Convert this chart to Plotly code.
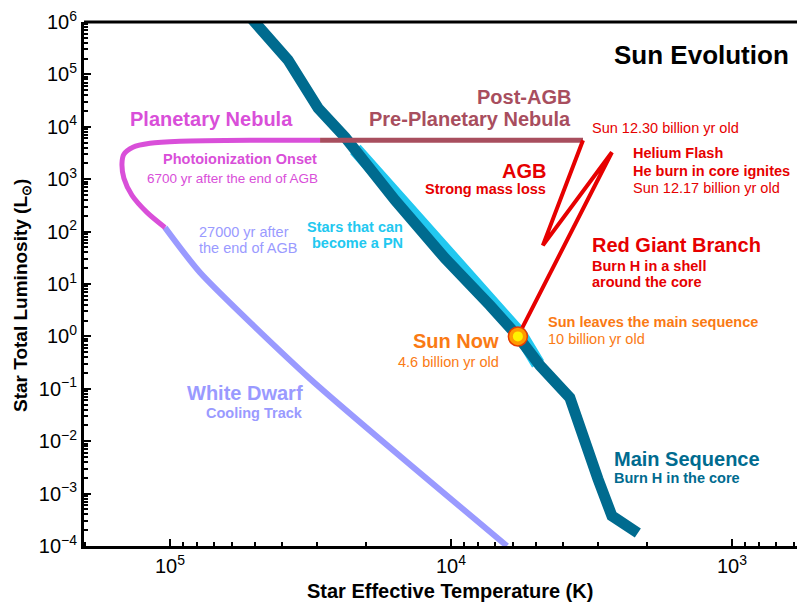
import plotly.graph_objects as go

# ---------------- data (effective temperature K, luminosity L_sun) ----------------
ms_T = [51500, 38000, 29700, 23800, 15800, 10500, 7260, 5780, 4820, 3776, 3000, 2675, 2163]
ms_L = [1.2e6, 1.87e5, 2.27e4, 6320, 395, 30.8, 3.88, 1.0, 0.277, 0.0676, 0.00191, 3.75e-4, 1.77e-4]

pn_cand_T = [21900, 15700, 10400, 7130, 5660, 4900]
pn_cand_L = [3700, 480, 36.0, 4.40, 1.08, 0.30]

rgb_T = [5780, 2675, 4710, 3390]
rgb_L = [1.0, 3270, 54.5, 5550]

pagb_T = [3390, 29240]
pagb_L = [5550, 5550]

pn_T = [29240, 51900, 92100, 117800, 135500, 145900, 148200, 145900, 136500, 120800, 104200]
pn_L = [5550, 5550, 5310, 4850, 4070, 2990, 2010, 1040, 492, 233, 120]

wd_T = [104200, 78200, 31760, 6320]
wd_L = [120, 16.6, 0.156, 1e-4]

sun_T = [5780]
sun_L = [1.0]

x_tickvals = [1e5, 1e4, 1e3]
x_ticktext = ["10<sup>5</sup>", "10<sup>4</sup>", "10<sup>3</sup>"]
y_exps = [-4, -3, -2, -1, 0, 1, 2, 3, 4, 5, 6]
y_tickvals = [10.0 ** e for e in y_exps]
y_ticktext = ["10<sup>%s</sup>" % (str(e).replace("-", "\u2212")) for e in y_exps]

# ---------------- colours ----------------
C_MS = "#006b8f"
C_CYAN = "#22c8f0"
C_RED = "#e60000"
C_MAROON = "#a84e5e"
C_MAG = "#d94fd9"
C_LAV = "#9a9aff"
C_ORANGE = "#fa7a14"
FONT = "Liberation Sans, Arial, sans-serif"

fig = go.Figure()

fig.add_trace(go.Scatter(x=pn_cand_T, y=pn_cand_L, mode="lines",
                         line=dict(color=C_CYAN, width=14), hoverinfo="skip"))
fig.add_trace(go.Scatter(x=ms_T, y=ms_L, mode="lines",
                         line=dict(color=C_MS, width=11), hoverinfo="skip"))
fig.add_trace(go.Scatter(x=wd_T, y=wd_L, mode="lines",
                         line=dict(color=C_LAV, width=6, shape="spline", smoothing=0.6), hoverinfo="skip"))
fig.add_trace(go.Scatter(x=pn_T, y=pn_L, mode="lines",
                         line=dict(color=C_MAG, width=5, shape="spline", smoothing=0.8), hoverinfo="skip"))
fig.add_trace(go.Scatter(x=pagb_T, y=pagb_L, mode="lines",
                         line=dict(color=C_MAROON, width=5), hoverinfo="skip"))
fig.add_trace(go.Scatter(x=rgb_T, y=rgb_L, mode="lines",
                         line=dict(color=C_RED, width=4), hoverinfo="skip"))
fig.add_trace(go.Scatter(x=sun_T, y=sun_L, mode="markers",
                         marker=dict(size=19, color="#ff9a00", line=dict(color="#e63c00", width=1.5)),
                         hoverinfo="skip"))
fig.add_trace(go.Scatter(x=sun_T, y=sun_L, mode="markers",
                         marker=dict(size=10, color="#fff200", line=dict(width=0)),
                         hoverinfo="skip"))

# ---------------- layout helpers (screen pixel -> paper) ----------------
OFF = 8  # page body margin
W, H = 805 - 2 * OFF, 605 - OFF
PL, PR, PT, PB = 84, OFF + W, 22, 546   # plot area in screen pixels


def pos(px, py):
    return (px - PL) / (PR - PL), (PB - py) / (PB - PT)


ann = []


def label(text, px, py, color, size, anchor="left", bold=False, angle=0):
    x, y = pos(px, py)
    if bold:
        text = "<b>%s</b>" % text
    ann.append(dict(text=text, x=x, y=y, xref="paper", yref="paper",
                    xanchor=anchor, yanchor="middle", showarrow=False,
                    textangle=angle,
                    font=dict(family=FONT, size=size, color=color)))


BIG = 20
SM = 14.5

label("Sun Evolution", 612, 55, "black", 26, "left", True)
label("Planetary Nebula", 128, 119, C_MAG, BIG, "left", True)
label("Post-AGB", 573, 97, C_MAROON, BIG, "right", True)
label("Pre-Planetary Nebula", 573, 119, C_MAROON, BIG, "right", True)
label("Sun 12.30 billion yr old", 590, 128, C_RED, SM, "left")
label("Helium Flash", 631, 153, C_RED, SM, "left", True)
label("He burn in core ignites", 631, 171, C_RED, SM, "left", True)
label("Sun 12.17 billion yr old", 631, 188, C_RED, SM, "left")
label("AGB", 548, 171, C_RED, BIG, "right", True)
label("Strong mass loss", 548, 189, C_RED, SM, "right", True)
label("Red Giant Branch", 590, 245, C_RED, BIG, "left", True)
label("Burn H in a shell", 590, 266, C_RED, SM, "left", True)
label("around the core", 590, 282, C_RED, SM, "left", True)
label("Sun leaves the main sequence", 546, 322, C_ORANGE, SM, "left", True)
label("10 billion yr old", 546, 339, C_ORANGE, SM, "left")
label("Sun Now", 501, 341, C_ORANGE, BIG, "right", True)
label("4.6 billion yr old", 501, 362, C_ORANGE, SM, "right")
label("Photoionization Onset", 319, 159, C_MAG, SM, "right", True)
label("6700 yr after the end of AGB", 320, 178, C_MAG, 13.5, "right")
label("27000 yr after", 197, 232, C_LAV, SM, "left")
label("the end of AGB", 197, 248, C_LAV, SM, "left")
label("Stars that can", 405, 227, C_CYAN, SM, "right", True)
label("become a PN", 405, 243, C_CYAN, SM, "right", True)
label("White Dwarf", 305, 393, C_LAV, BIG, "right", True)
label("Cooling Track", 305, 413, C_LAV, SM, "right", True)
label("Main Sequence", 612, 459, C_MS, BIG, "left", True)
label("Burn H in the core", 612, 478, C_MS, SM, "left", True)

# axis titles
label("Star Effective Temperature (K)", 450, 591, "black", 20, "center", True)
xt, yt = pos(22, 296)
ann.append(dict(text="<b>Star Total Luminosity (L<sub>\u2299</sub>)</b>", x=xt, y=yt,
                xref="paper", yref="paper", xanchor="center", yanchor="middle",
                showarrow=False, textangle=-90,
                font=dict(family=FONT, size=19, color="black")))

axis_common = dict(
    type="log", showgrid=False, zeroline=False, automargin=False,
    ticklabeloverflow="allow", mirror=False,
    showline=True, linecolor="black", linewidth=3,
    ticks="inside", ticklen=7, tickwidth=2, tickcolor="black",
    tickfont=dict(family=FONT, size=20, color="black"),
    minor=dict(ticks="inside", ticklen=4, tickwidth=1.5, tickcolor="black",
               dtick="D1", showgrid=False),
)

# x range: left edge 2.02e5 K at screen x=84, 281 px per decade
x_lo = 5.306
x_hi = x_lo - (PR - PL) / 281.0

fig.update_layout(
    width=W, height=H,
    margin=dict(l=PL - OFF, r=(OFF + W) - PR, t=PT - OFF, b=(OFF + H) - PB, autoexpand=False),
    plot_bgcolor="white", paper_bgcolor="white",
    showlegend=False,
    annotations=ann,
    # top frame line only (no right frame in the reference)
    shapes=[dict(type="line", xref="paper", yref="paper", x0=0, x1=1, y0=1, y1=1,
                 line=dict(color="black", width=3))],
    xaxis=dict(range=[x_lo, x_hi], tickmode="array", tickvals=x_tickvals,
               ticktext=x_ticktext, **axis_common),
    yaxis=dict(range=[-4, 6], tickmode="array", tickvals=y_tickvals,
               ticktext=y_ticktext, **axis_common),
)

fig.write_html("out.html")
